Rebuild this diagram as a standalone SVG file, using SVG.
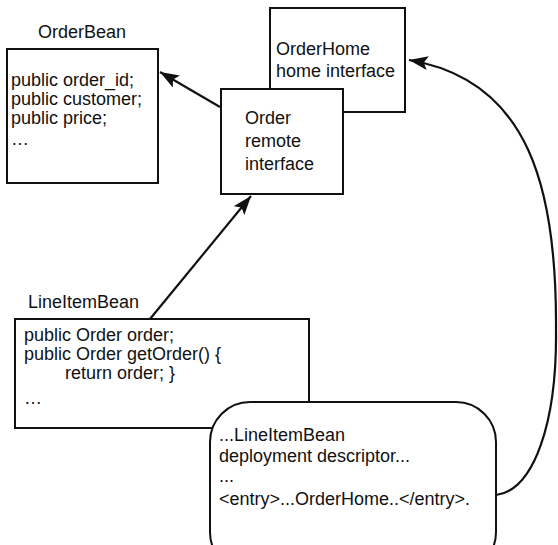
<svg xmlns="http://www.w3.org/2000/svg" width="558" height="545" viewBox="0 0 558 545">
  <style>
    text { font-family: "Liberation Sans", Arial, sans-serif; font-size: 18px; fill: #111; }
    .box { fill: #fff; stroke: #111; stroke-width: 2; }
    .link { fill: none; stroke: #111; stroke-width: 2.2; }
  </style>
  <defs>
    <marker id="arrow" markerUnits="userSpaceOnUse" markerWidth="20" markerHeight="14" refX="19" refY="7" orient="auto">
      <path d="M0,0 L19,7 L0,14 L4,7 z" fill="#111"/>
    </marker>
  </defs>

  <!-- entity bean class -->
  <g id="orderbean">
    <text x="38" y="38">OrderBean</text>
    <rect class="box" x="7" y="49" width="151" height="134"/>
    <text x="11" y="86">public order_id;</text>
    <text x="11" y="105">public customer;</text>
    <text x="11" y="124">public price;</text>
    <text x="11" y="145">…</text>
  </g>

  <!-- home interface -->
  <g id="orderhome">
    <rect class="box" x="270" y="8" width="135" height="104"/>
    <text x="276" y="55">OrderHome</text>
    <text x="276" y="77">home interface</text>
  </g>

  <!-- remote interface, drawn over the home interface -->
  <g id="order">
    <rect class="box" x="221" y="89" width="122" height="105"/>
    <text x="245" y="124">Order</text>
    <text x="245" y="147">remote</text>
    <text x="245" y="170">interface</text>
  </g>

  <!-- referencing bean class -->
  <g id="lineitembean">
    <text x="28" y="308">LineItemBean</text>
    <rect class="box" x="15" y="319" width="294" height="109"/>
    <text x="24" y="341">public Order order;</text>
    <text x="24" y="360">public Order getOrder() {</text>
    <text x="65" y="379">return order; }</text>
    <text x="24" y="404">…</text>
  </g>

  <!-- deployment descriptor, drawn over the bean class -->
  <g id="descriptor">
    <rect class="box" x="210" y="402" width="286" height="170" rx="40" ry="40"/>
    <text x="219" y="441">...LineItemBean</text>
    <text x="219" y="462">deployment descriptor...</text>
    <text x="219" y="482">...</text>
    <text x="219" y="505">&lt;entry&gt;...OrderHome..&lt;/entry&gt;.</text>
  </g>

  <g id="connectors">
    <line class="link" x1="220" y1="107" x2="160" y2="72" marker-end="url(#arrow)"/>
    <line class="link" x1="150" y1="319" x2="251" y2="196" marker-end="url(#arrow)"/>
    <path class="link" d="M496,495 C535,490 557,420 556,330 C557,190 530,80 409,60" marker-end="url(#arrow)"/>
  </g>
</svg>
